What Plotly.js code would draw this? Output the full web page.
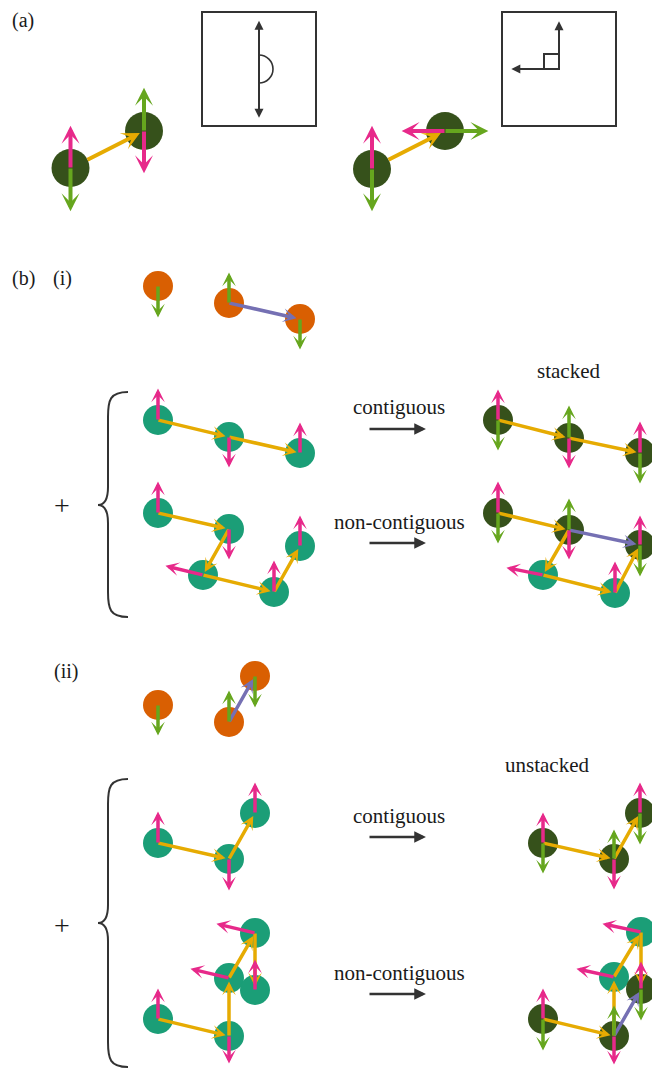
<!DOCTYPE html>
<html>
<head>
<meta charset="utf-8">
<script src="https://cdn.plot.ly/plotly-3.0.1.min.js"></script>
<style>html,body{margin:0;padding:0;background:#fff;}#chart{width:652px;height:1068px;}</style>
</head>
<body>
<div id="chart"></div>
<script>
// ---------------- data ----------------
// Panel (a) large atoms
const bigNodeX = [70.5, 144, 372, 445];
const bigNodeY = [168, 131, 169, 131];
// Orange (source) atoms in (b)
const orangeNodeX = [158, 229, 300, 158, 229, 255];
const orangeNodeY = [286, 303, 319, 705, 722, 676];
// Teal atoms
const tealNodeX = [158, 229, 300, 158, 229, 203, 274, 300, 543, 615, 158, 229, 255, 158, 229, 229, 255, 255, 614, 641];
const tealNodeY = [420, 437, 453, 513, 529, 575, 592, 546, 575, 593, 843, 859, 813, 1019, 1036, 978, 933, 990, 977, 932];
// Dark (combined) atoms
const darkNodeX = [498, 569, 640, 498, 569, 640, 543, 614, 640, 543, 614, 641];
const darkNodeY = [420, 438, 453, 513, 530, 545, 843, 859, 813, 1019, 1036, 989];

// Arrows [x0, y0, xTip, yTip]
const pinkArrowsA  = [[70.5,168,70.5,121],[144,131,144,178],[372,169,372,121],[445,131,397,131]];
const greenArrowsA = [[70.5,168,70.5,216],[144,131,144,83],[372,169,372,216],[445,131,493,131]];
const goldArrowsA  = [[87,160,144,131],[388,160,445,131]];

const goldArrows = [
  [158,420,229,437],[229,437,300,453],
  [158,513,229,529],[229,529,203,575],[203,575,274,592],[274,592,300,546],
  [498,420,569,438],[569,438,640,453],
  [498,513,569,530],[569,530,543,575],[543,575,615,593],[615,593,640,545],
  [158,843,229,859],[229,859,255,813],
  [158,1019,229,1036],[229,1036,229,978],[229,978,255,933],[255,933,255,990],
  [543,843,614,859],[614,859,640,813],
  [543,1019,614,1036],[614,1036,614,977],[614,977,641,932],[641,932,641,989]
];
const purpleArrows = [[229,303,300,319],[229,722,255,676],[569,530,640,545],[614,1036,641,989]];
const greenArrows = [
  [158,286,158,321],[229,303,229,269],[300,319,300,353],
  [158,705,158,739],[229,722,229,687],[255,676,255,711],
  [498,420,498,454],[569,438,569,402],[640,453,640,487],
  [498,513,498,547],[569,530,569,495],[640,545,640,580],
  [543,843,543,877],[614,859,614,826],[640,813,640,848],
  [543,1019,543,1054],[614,1036,614,1002],[641,989,641,1024]
];
const pinkArrows = [
  [158,420,158,385],[229,437,229,471],[300,453,300,419],
  [158,513,158,478],[229,529,229,563],[203,575,162,565],[274,592,274,557],[300,546,300,512],
  [498,420,498,386],[569,438,569,472],[640,453,640,418],
  [498,513,498,478],[569,530,569,563],[640,545,640,512],[543,575,503,567],[615,593,615,558],
  [158,843,158,808],[229,859,229,894],[255,813,255,779],
  [158,1019,158,985],[229,1036,229,1067],[229,978,187,968],[255,933,213,923],[255,990,255,956],
  [543,843,543,809],[614,859,614,893],[640,813,640,779],
  [543,1019,543,985],[614,1036,614,1068],[614,977,573,968],[641,932,599,923],[641,989,641,958]
];
const processArrows = [[369,429,429,429],[369,543,429,543],[369,837,429,837],[369,994,429,994]];

// Labels
const labelText = ['(a)', '(b)', '(i)', '(ii)', '+', '+', 'contiguous', 'non-contiguous', 'stacked', 'contiguous', 'non-contiguous', 'unstacked'];
const labelX = [23, 23, 62, 66, 62, 62, 399, 399, 568, 399, 399, 547];
const labelY = [20, 278, 278, 671, 505, 925, 407, 522, 371, 816, 973, 765];
const labelSize = [20, 20, 20, 20, 28, 28, 21, 21, 21, 21, 21, 21];

// Inset boxes [x0,y0,x1,y1]
const insetBoxes = [[202,12,316,126],[502,12,616,126]];
// Brace geometry: [xTip, xEnd, yTop, yMid, yBottom]
const braces = [[98,128,392,505,617],[98,128,779,923,1067]];

// ---------------- style ----------------
const C = {dark:'#36511B', teal:'#1B9E77', orange:'#D95F02', pink:'#E7298A', green:'#66A61E', gold:'#E6AB02', purple:'#7570B3', ink:'#333333', text:'#1a1a1a'};
const SERIF = 'Liberation Serif';

const traces = [];
function nodes(xs, ys, color, size){
  traces.push({type:'scatter', mode:'markers', x:xs, y:ys, hoverinfo:'skip',
    marker:{size:size, color:color, line:{width:0}}, showlegend:false});
}
nodes(bigNodeX, bigNodeY, C.dark, 38);
nodes(orangeNodeX, orangeNodeY, C.orange, 30);
nodes(tealNodeX, tealNodeY, C.teal, 30);
nodes(darkNodeX, darkNodeY, C.dark, 30);

const HEAD = {2:1.3, 3:1.55};
const annotations = [];
function arrow(a, color, width, size, head, both){
  const [x0,y0,x1,y1] = a;
  const L = Math.hypot(x1-x0, y1-y0);
  const off = HEAD[head]*width*size;
  const ux = (x1-x0)/L, uy = (y1-y0)/L;
  let sx = x0, sy = y0;
  if(both){ sx = x0 + ux*off; sy = y0 + uy*off; }
  annotations.push({x:x1-ux*off, y:y1-uy*off, ax:sx, ay:sy, xref:'x', yref:'y', axref:'x', ayref:'y',
    text:'', showarrow:true, arrowhead:head, startarrowhead:head, arrowside: both ? 'end+start' : 'end',
    arrowsize:size, startarrowsize:size, arrowwidth:width, arrowcolor:color, standoff:0, startstandoff:0,
    font:{size:1}, borderpad:0});
}
goldArrowsA.forEach(a=>arrow(a, C.gold, 4, 0.75, 3));
pinkArrowsA.forEach(a=>arrow(a, C.pink, 4, 0.75, 3));
greenArrowsA.forEach(a=>arrow(a, C.green, 4, 0.75, 3));
goldArrows.forEach(a=>arrow(a, C.gold, 3.5, 0.65, 3));
purpleArrows.forEach(a=>arrow(a, C.purple, 3.5, 0.65, 3));
greenArrows.forEach(a=>arrow(a, C.green, 3.5, 0.65, 3));
pinkArrows.forEach(a=>arrow(a, C.pink, 3.5, 0.65, 3));
processArrows.forEach(a=>arrow(a, C.ink, 2.6, 0.9, 2));

// inset arrows
const insetArrows = [[259,18,259,120,true],[559,69,559,19,false],[559,69,509,69,false]];
insetArrows.forEach(a=>arrow(a.slice(0,4), C.ink, 2, 0.9, 2, a[4]));

for(let i=0;i<labelText.length;i++){
  annotations.push({x:labelX[i], y:labelY[i], xref:'x', yref:'y', text:labelText[i], showarrow:false,
    font:{family:SERIF, size:labelSize[i], color:C.text},
    xanchor:'center', yanchor:'middle'});
}

const shapes = [];
insetBoxes.forEach(b=>shapes.push({type:'rect', xref:'x', yref:'y', x0:b[0], y0:b[1], x1:b[2], y1:b[3],
  line:{color:C.ink, width:2}, fillcolor:'rgba(0,0,0,0)'}));
// right-angle marker
shapes.push({type:'rect', xref:'x', yref:'y', x0:544, y0:54, x1:559, y1:69, line:{color:C.ink, width:2}, fillcolor:'rgba(0,0,0,0)'});
// semicircle (angle marker) built from bezier quarter arcs
(function(){
  const cx=259, cy=69, r=14, k=0.5523*r;
  shapes.push({type:'path', xref:'x', yref:'y', line:{color:C.ink, width:1.6},
    path:`M${cx},${cy-r} C${cx+k},${cy-r} ${cx+r},${cy-k} ${cx+r},${cy} C${cx+r},${cy+k} ${cx+k},${cy+r} ${cx},${cy+r}`});
})();
// braces
braces.forEach(b=>{
  const [xt, xe, yt, ym, yb] = b;
  const xm = xt + 10;
  const p = `M${xe},${yt} C${xm+2},${yt} ${xm},${yt+8} ${xm},${yt+25} L${xm},${ym-18} C${xm},${ym-6} ${xm-4},${ym} ${xt},${ym} ` +
            `C${xm-4},${ym} ${xm},${ym+6} ${xm},${ym+18} L${xm},${yb-25} C${xm},${yb-8} ${xm+2},${yb} ${xe},${yb}`;
  shapes.push({type:'path', xref:'x', yref:'y', path:p, line:{color:C.ink, width:2}});
});

const layout = {
  width:652, height:1068, margin:{l:0,r:0,t:0,b:0}, paper_bgcolor:'#ffffff', plot_bgcolor:'#ffffff',
  font:{family:SERIF},
  xaxis:{range:[0,652], visible:false, fixedrange:true},
  yaxis:{range:[1068,0], visible:false, fixedrange:true},
  showlegend:false, annotations:annotations, shapes:shapes
};
Plotly.newPlot('chart', traces, layout, {staticPlot:true, displayModeBar:false});
</script>
</body>
</html>
